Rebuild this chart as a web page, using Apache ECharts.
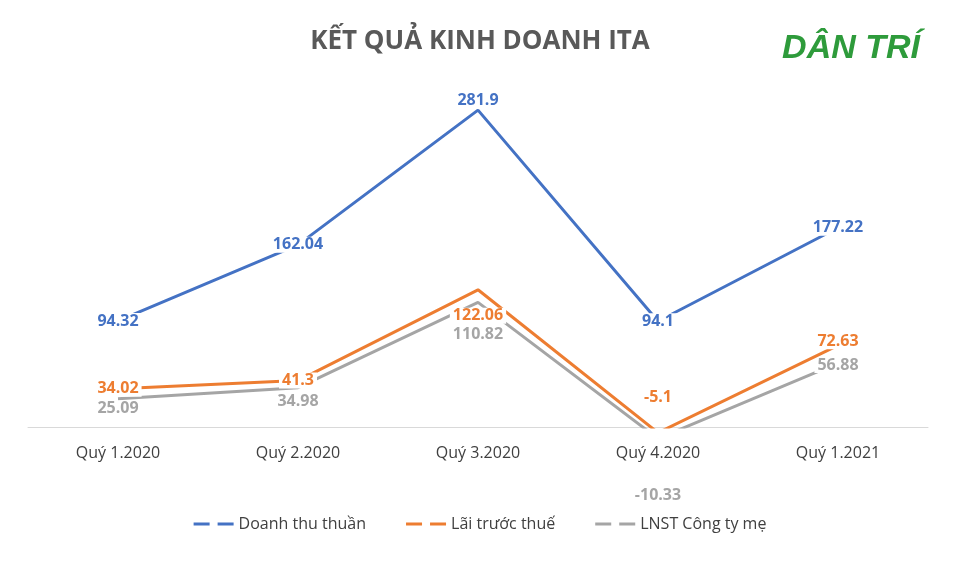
<!DOCTYPE html><html><head><meta charset="utf-8"><script src="https://cdn.jsdelivr.net/npm/echarts@6/dist/echarts.min.js"></script></head><body style="margin:0"><div id="c" style="width:960px;height:563px"></div><script>
const categories=['Quý 1.2020','Quý 2.2020','Quý 3.2020','Quý 4.2020','Quý 1.2021'];
const doanhThu=[94.32,162.04,281.9,94.1,177.22];
const laiTruocThue=[34.02,41.3,122.06,-5.1,72.63];
const lnst=[25.09,34.98,110.82,-10.33,56.88];
const names=['Doanh thu thuần','Lãi trước thuế','LNST Công ty mẹ'];
const colors=['#4472C4','#ED7D31','#A5A5A5'];
const offs=[
 [[0,0],[0,0],[0,-10],[0,0],[0,0]],
 [[0,0],[0,0],[0,26],[0,-35],[0,-4]],
 [[0,10],[0,14],[0,32],[0,57],[0,2]]
];
const data=[doanhThu,laiTruocThue,lnst];
const chart=echarts.init(document.getElementById('c'));
chart.setOption({
 title:{text:'KẾT QUẢ KINH DOANH ITA',left:'center',top:24,textStyle:{fontFamily:'Open Sans',fontWeight:'bold',fontSize:26,color:'#595959'}},
 graphic:[{type:'text',right:40,top:32,style:{text:'DÂN TRÍ',fontSize:34,fontWeight:'bold',fontStyle:'italic',fill:'#2e9b3b',fontFamily:'Liberation Sans'}}],
 legend:{bottom:26,itemWidth:40,itemGap:40,icon:'path://M0,0H16V3H0Z M24,0H40V3H24Z',textStyle:{fontFamily:'Open Sans',fontSize:16,color:'#404040'},data:names},
 grid:{left:28,right:32,top:101,bottom:136},
 xAxis:{type:'category',data:categories,axisTick:{show:false},axisLine:{lineStyle:{color:'#D9D9D9'}},axisLabel:{margin:18,fontFamily:'Open Sans',fontSize:16,color:'#404040'}},
 yAxis:{type:'value',min:0,max:290,show:false,splitLine:{show:false}},
 series:data.map((d,i)=>({name:names[i],type:'line',clip:false,data:d.map((v,j)=>({value:v,label:{offset:offs[i][j],backgroundColor:(i===2&&j===2)?'transparent':'#fff'}})),color:colors[i],lineStyle:{width:3,color:colors[i]},itemStyle:{color:colors[i]},symbol:'circle',symbolSize:0.1,z:3-i,
  label:{show:true,position:'inside',padding:[0,3],fontFamily:'Open Sans',fontWeight:'bold',fontSize:16,color:colors[i]}}))
});
</script></body></html>
